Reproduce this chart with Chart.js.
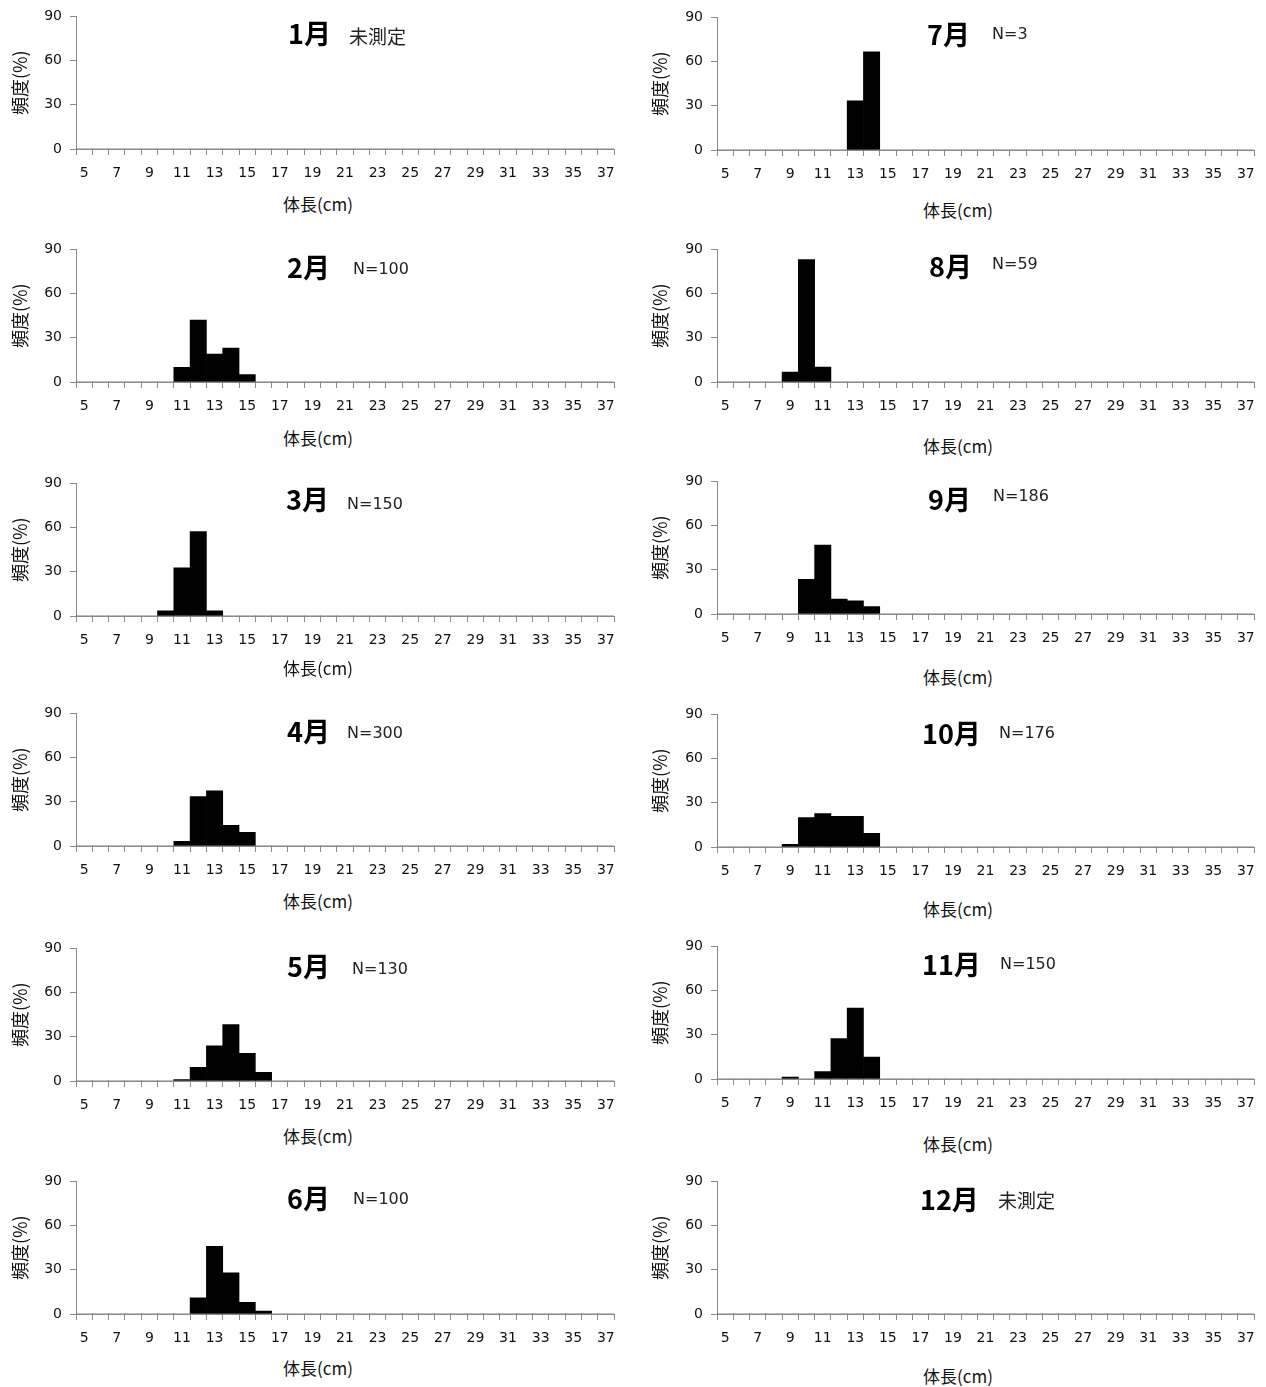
<!DOCTYPE html>
<html lang="ja">
<head>
<meta charset="utf-8">
<script src="https://cdn.jsdelivr.net/npm/chart.js@4.4.1/dist/chart.umd.min.js"></script>
<style>
  html, body { margin: 0; padding: 0; background: #fff; }
  body { width: 1266px; height: 1387px; position: relative; overflow: hidden; }
  canvas { position: absolute; }
  .month { position: absolute; font: bold 27px "Noto Sans CJK JP"; line-height: 1; color: #000; white-space: nowrap; }
  .sub { position: absolute; font: 16px "DejaVu Sans"; line-height: 1; color: #222; white-space: nowrap; }
  .sub.jp { font: 19px "Noto Sans CJK JP"; line-height: 1; }
  .xt { position: absolute; font: 17px "Noto Sans CJK JP"; line-height: 1; color: #111; white-space: nowrap; transform: translate(-50%, -50%); }
</style>
</head>
<body>
<script>
// 体長階級 (cm)
const lengths = [5, 6, 7, 8, 9, 10, 11, 12, 13, 14, 15, 16, 17, 18, 19, 20, 21, 22, 23, 24, 25, 26, 27, 28, 29, 30, 31, 32, 33, 34, 35, 36, 37];
const tickLabels = ['5', '7', '9', '11', '13', '15', '17', '19', '21', '23', '25', '27', '29', '31', '33', '35', '37'];

// 頻度 (%) 月別
const jan = [0, 0, 0, 0, 0, 0, 0, 0, 0, 0, 0, 0, 0, 0, 0, 0, 0, 0, 0, 0, 0, 0, 0, 0, 0, 0, 0, 0, 0, 0, 0, 0, 0];
const feb = [0, 0, 0, 0, 0, 0, 10, 42, 19, 23, 5, 0, 0, 0, 0, 0, 0, 0, 0, 0, 0, 0, 0, 0, 0, 0, 0, 0, 0, 0, 0, 0, 0];
const mar = [0, 0, 0, 0, 0, 3.5, 32.7, 57.3, 3.5, 0, 0, 0, 0, 0, 0, 0, 0, 0, 0, 0, 0, 0, 0, 0, 0, 0, 0, 0, 0, 0, 0, 0, 0];
const apr = [0, 0, 0, 0, 0, 0, 3.2, 33.5, 37.4, 14, 9.2, 0, 0, 0, 0, 0, 0, 0, 0, 0, 0, 0, 0, 0, 0, 0, 0, 0, 0, 0, 0, 0, 0];
const may = [0, 0, 0, 0, 0, 0, 1, 9.2, 23.9, 38.3, 18.7, 5.9, 0, 0, 0, 0, 0, 0, 0, 0, 0, 0, 0, 0, 0, 0, 0, 0, 0, 0, 0, 0, 0];
const jun = [0, 0, 0, 0, 0, 0, 0, 11, 46, 28, 8, 2, 0, 0, 0, 0, 0, 0, 0, 0, 0, 0, 0, 0, 0, 0, 0, 0, 0, 0, 0, 0, 0];
const jul = [0, 0, 0, 0, 0, 0, 0, 0, 33.3, 66.7, 0, 0, 0, 0, 0, 0, 0, 0, 0, 0, 0, 0, 0, 0, 0, 0, 0, 0, 0, 0, 0, 0, 0];
const aug = [0, 0, 0, 0, 6.8, 83.1, 10.2, 0, 0, 0, 0, 0, 0, 0, 0, 0, 0, 0, 0, 0, 0, 0, 0, 0, 0, 0, 0, 0, 0, 0, 0, 0, 0];
const sep = [0, 0, 0, 0, 0, 23.6, 46.8, 10.1, 9, 5, 0, 0, 0, 0, 0, 0, 0, 0, 0, 0, 0, 0, 0, 0, 0, 0, 0, 0, 0, 0, 0, 0, 0];
const oct = [0, 0, 0, 0, 1.8, 20, 22.6, 20.8, 20.8, 9.2, 0, 0, 0, 0, 0, 0, 0, 0, 0, 0, 0, 0, 0, 0, 0, 0, 0, 0, 0, 0, 0, 0, 0];
const nov = [0, 0, 0, 0, 1.3, 0, 5, 27.5, 48.2, 14.9, 0, 0, 0, 0, 0, 0, 0, 0, 0, 0, 0, 0, 0, 0, 0, 0, 0, 0, 0, 0, 0, 0, 0];
const dec = [0, 0, 0, 0, 0, 0, 0, 0, 0, 0, 0, 0, 0, 0, 0, 0, 0, 0, 0, 0, 0, 0, 0, 0, 0, 0, 0, 0, 0, 0, 0, 0, 0];

const monthNames = ['1月', '2月', '3月', '4月', '5月', '6月', '7月', '8月', '9月', '10月', '11月', '12月'];
const notes = ['未測定', 'N=100', 'N=150', 'N=300', 'N=130', 'N=100', 'N=3', 'N=59', 'N=186', 'N=176', 'N=150', '未測定'];
const series = [jan, feb, mar, apr, may, jun, jul, aug, sep, oct, nov, dec];
const yTicks = [0, 30, 60, 90];

// 配置 (px): グラフ領域の上端, 見出しの位置
const plotTop = [16, 249, 483, 713, 948, 1181, 17, 249, 481, 714, 946, 1181];
const plotH = 133;
const monthPos = [[288, 22], [287, 256], [286, 488], [287, 720], [287, 955], [287, 1187],
                  [927, 23], [929, 255], [928, 488], [922, 722], [922, 953], [920, 1188]];
const notePos = [[349, 28], [353, 263], [347, 498], [347, 727], [352, 963], [353, 1193],
                 [992, 28], [992, 258], [993, 490], [999, 727], [1000, 958], [998, 1192]];
const xTitlePos = [[318, 203], [318, 437], [318, 667], [318, 900], [318, 1135], [318, 1367],
                   [958, 209], [958, 445], [958, 676], [958, 908], [958, 1143], [958, 1375]];

const axisColor = '#8a8a8a';
const tickFont = { family: 'DejaVu Sans', size: 14 };

function addText(cls, text, left, top, dy) {
    const el = document.createElement('div');
    el.className = cls;
    el.textContent = text;
    el.style.left = left + 'px';
    el.style.top = (top - dy) + 'px';
    document.body.appendChild(el);
}

function renderHist(i) {
    const right = i >= 6;
    const canvas = document.createElement('canvas');
    const w = right ? 626 : 630;
    const h = 16 + plotH + 40;
    canvas.width = w;
    canvas.height = h;
    canvas.style.left = (right ? 640 : 0) + 'px';
    canvas.style.top = (plotTop[i] - 16) + 'px';
    document.body.appendChild(canvas);

    new Chart(canvas, {
        type: 'bar',
        data: {
            labels: lengths,
            datasets: [{
                data: series[i],
                backgroundColor: '#000',
                borderWidth: 0,
                barPercentage: 1,
                categoryPercentage: 1
            }]
        },
        options: {
            responsive: false,
            animation: false,
            layout: { padding: { top: 16, right: right ? 12 : 16, bottom: 0, left: 0 } },
            plugins: { legend: { display: false }, tooltip: { enabled: false } },
            scales: {
                x: {
                    offset: true,
                    grid: { drawOnChartArea: false, drawTicks: true, tickLength: 6, color: axisColor, offset: true },
                    border: { display: true, color: axisColor, width: 1 },
                    ticks: {
                        autoSkip: false, maxRotation: 0, padding: 10, color: '#111', font: tickFont,
                        callback: (v, idx) => idx % 2 === 0 ? tickLabels[idx / 2] : ''
                    },
                    afterFit: s => { s.height = 40; }
                },
                y: {
                    min: 0, max: 90,
                    afterBuildTicks: s => { s.ticks = yTicks.map(v => ({ value: v })); },
                    grid: { drawOnChartArea: false, drawTicks: true, tickLength: 6, color: axisColor },
                    border: { display: true, color: axisColor, width: 1 },
                    ticks: { padding: 8, color: '#111', font: tickFont },
                    title: {
                        display: true, text: '頻度(%)', color: '#111',
                        font: { family: 'Noto Sans CJK JP', size: 18 },
                        padding: { top: 9, bottom: 0 }
                    },
                    afterFit: s => { s.width = right ? 77 : 76; }
                }
            }
        }
    });

    addText('month', monthNames[i], monthPos[i][0], monthPos[i][1], 3);
    addText(notes[i] === '未測定' ? 'sub jp' : 'sub', notes[i], notePos[i][0], notePos[i][1], 2);
    addText('xt', '体長(cm)', xTitlePos[i][0], xTitlePos[i][1], 0);
}

for (let i = 0; i < 12; i++) renderHist(i);
</script>
</body>
</html>
